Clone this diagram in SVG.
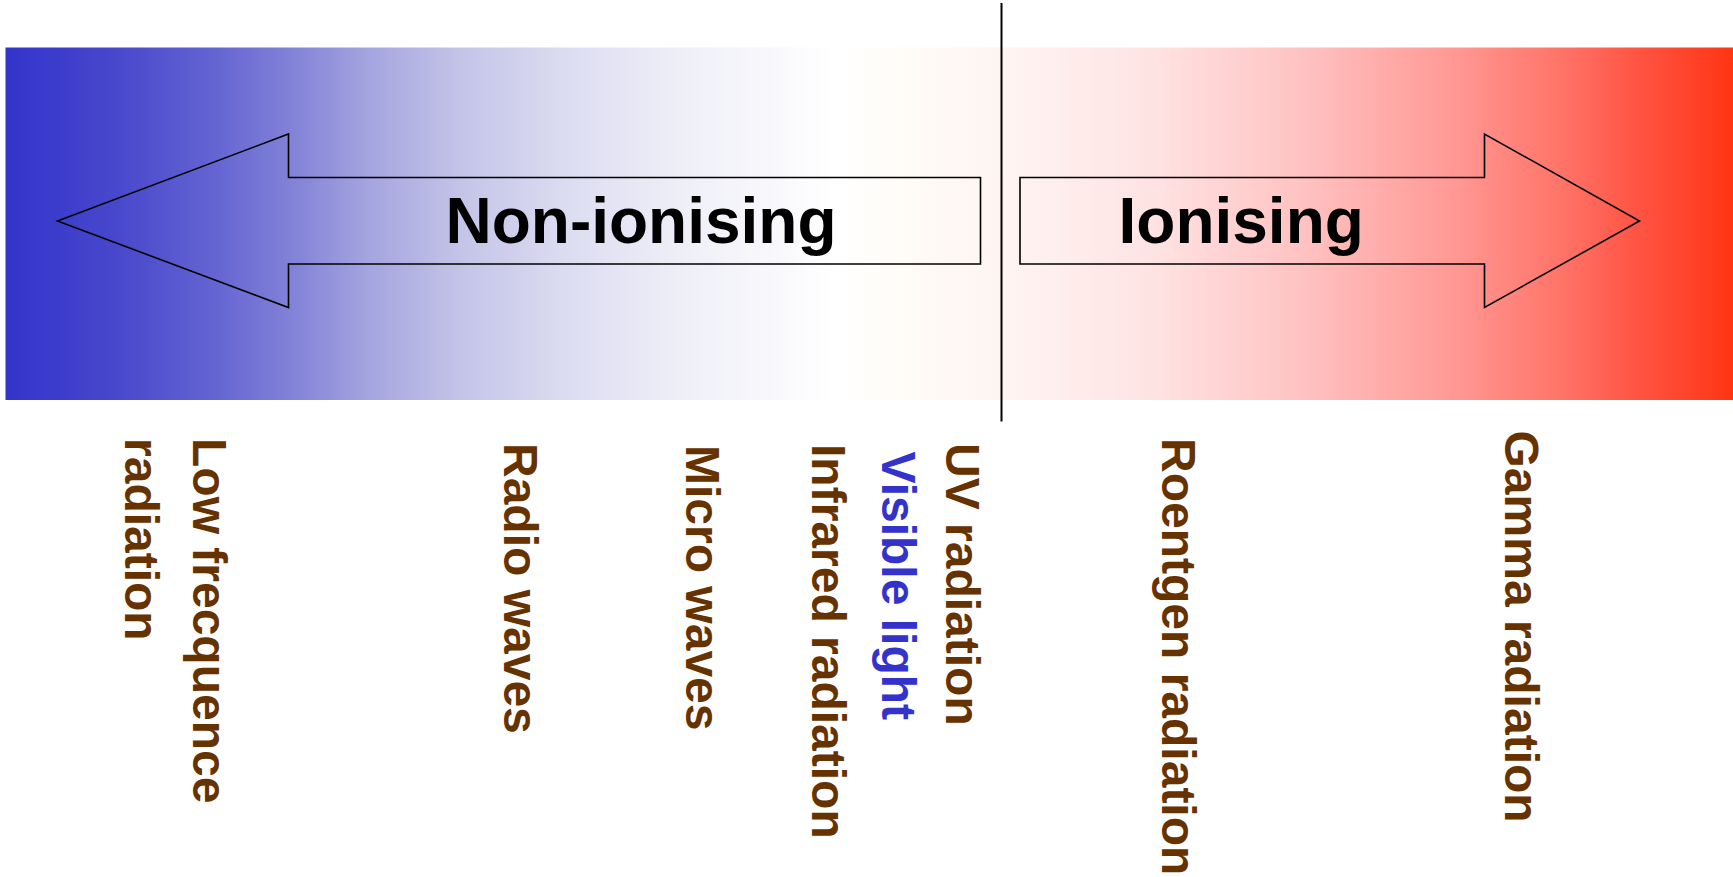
<svg xmlns="http://www.w3.org/2000/svg" width="1733" height="877" viewBox="0 0 1733 877">
  <defs>
    <linearGradient id="spectrum" gradientUnits="userSpaceOnUse" x1="5.5" y1="0" x2="1733" y2="0">
      <stop offset="0" stop-color="#3333CC"/>
      <stop offset="0.065" stop-color="#4848CC"/>
      <stop offset="0.121" stop-color="#6464D2"/>
      <stop offset="0.170" stop-color="#8585D8"/>
      <stop offset="0.211" stop-color="#A5A5E0"/>
      <stop offset="0.264" stop-color="#C4C4E8"/>
      <stop offset="0.330" stop-color="#DEDEF2"/>
      <stop offset="0.393" stop-color="#EFEFF8"/>
      <stop offset="0.481" stop-color="#FFFFFF"/>
      <stop offset="0.534" stop-color="#FFFAF5"/>
      <stop offset="0.581" stop-color="#FEF4F2"/>
      <stop offset="0.667" stop-color="#FFE2E2"/>
      <stop offset="0.751" stop-color="#FFC2C2"/>
      <stop offset="0.836" stop-color="#FF9A96"/>
      <stop offset="0.900" stop-color="#FF7468"/>
      <stop offset="0.943" stop-color="#FF5545"/>
      <stop offset="1" stop-color="#FF3514"/>
    </linearGradient>
  </defs>
  <style>
    .arrow { fill: none; stroke: #000; stroke-width: 1.6; stroke-linejoin: miter; }
    .big { font-family: "Liberation Sans", Arial, sans-serif; font-weight: bold; font-size: 64px; fill: #000; }
    .lbl { font-family: "Liberation Sans", Arial, sans-serif; font-weight: bold; font-size: 48px; fill: #663300; }
    .blue { fill: #3333CC; }
  </style>
  <rect id="spectrum-bar" x="5.5" y="47.5" width="1727.5" height="352.5" fill="url(#spectrum)"/>
  <g id="divider">
    <line x1="1001.5" y1="3" x2="1001.5" y2="421.5" stroke="#000" stroke-width="2"/>
  </g>
  <g id="non-ionising">
    <polygon class="arrow" points="57.5,221 288.5,134 288.5,177.5 980.5,177.5 980.5,264 288.5,264 288.5,307.5"/>
    <text class="big" x="445.5" y="243">Non-ionising</text>
  </g>
  <g id="ionising">
    <polygon class="arrow" points="1020,177.5 1484.5,177.5 1484.5,134 1639.5,221 1484.5,307.5 1484.5,264 1020,264"/>
    <text class="big" x="1118.5" y="243">Ionising</text>
  </g>
  <g id="labels">
    <g id="low-frequence">
      <text class="lbl" transform="translate(192.5,438) rotate(90)">Low frecquence</text>
      <text class="lbl" transform="translate(124.5,438) rotate(90)">radiation</text>
    </g>
    <g id="radio"><text class="lbl" transform="translate(504,443) rotate(90)">Radio waves</text></g>
    <g id="micro"><text class="lbl" transform="translate(686,445) rotate(90)">Micro waves</text></g>
    <g id="infrared"><text class="lbl" transform="translate(812,444) rotate(90)">Infrared radiation</text></g>
    <g id="visible"><text class="lbl blue" transform="translate(882,451.5) rotate(90)">Visible light</text></g>
    <g id="uv"><text class="lbl" transform="translate(946,443) rotate(90)">UV radiation</text></g>
    <g id="roentgen"><text class="lbl" transform="translate(1162,438) rotate(90)">Roentgen radiation</text></g>
    <g id="gamma"><text class="lbl" transform="translate(1504.5,430.5) rotate(90)">Gamma radiation</text></g>
  </g>
</svg>
